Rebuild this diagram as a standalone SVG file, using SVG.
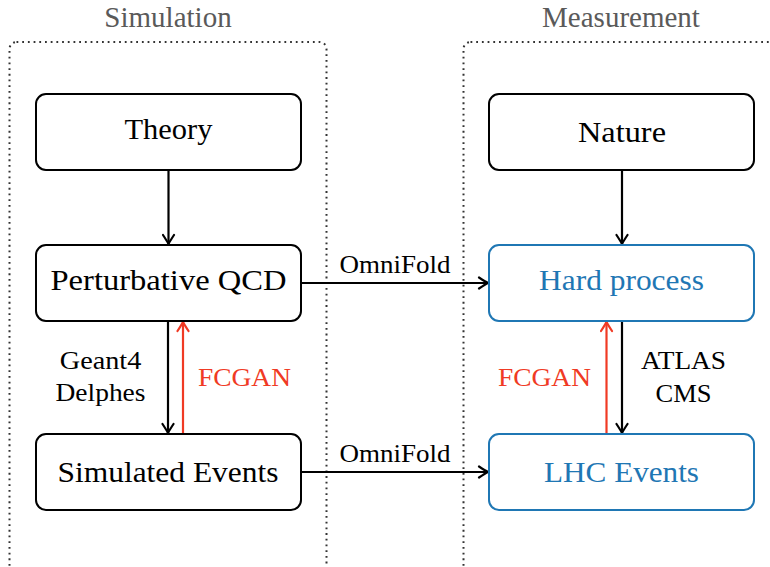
<svg xmlns="http://www.w3.org/2000/svg" width="770" height="567" viewBox="0 0 770 567">
<style>
.title{font-size:29px;fill:#5a5a5a;text-anchor:middle;}
.node{fill:#fff;stroke:#000;stroke-width:2;}
.blue{stroke:#1f77b4;}
.nt{font-size:29px;fill:#000;text-anchor:middle;}
.bt{fill:#1f77b4;}
.lab{font-size:25.5px;fill:#000;}
.red{fill:#f03a24;}
.cont{fill:none;stroke:#333;stroke-width:2;stroke-dasharray:1.8 3.9;}
.ar{fill:none;stroke:#000;stroke-width:2.2;}
.arr{fill:none;stroke:#f03a24;stroke-width:2.2;}
</style>
<defs>
<marker id="hk" markerUnits="userSpaceOnUse" viewBox="-11 -7 13 14" refX="0" refY="0" markerWidth="13" markerHeight="14" orient="auto">
<path d="M-9,-5.5 C-5.5,-3.2 -2,-1 0,0 C-2,1 -5.5,3.2 -9,5.5" fill="none" stroke="#000" stroke-width="2.2" stroke-linecap="round" stroke-linejoin="round"/>
</marker>
<marker id="hr" markerUnits="userSpaceOnUse" viewBox="-11 -7 13 14" refX="0" refY="0" markerWidth="13" markerHeight="14" orient="auto">
<path d="M-9,-5.5 C-5.5,-3.2 -2,-1 0,0 C-2,1 -5.5,3.2 -9,5.5" fill="none" stroke="#f03a24" stroke-width="2.2" stroke-linecap="round" stroke-linejoin="round"/>
</marker>
</defs>
<rect width="770" height="567" fill="#fff"/>
<g font-family="Liberation Serif, 'Times New Roman', 'DejaVu Serif', 'Noto Serif', Times, serif">
<g id="sim-container">
<rect class="cont" x="9.5" y="42" width="317" height="600" rx="7"/>
<text class="title" x="168" y="27">Simulation</text>
</g>
<g id="meas-container">
<rect class="cont" x="463.5" y="42" width="317" height="600" rx="7"/>
<text class="title" x="621" y="27">Measurement</text>
</g>
<g id="connectors">
<line class="ar" x1="168.5" y1="170" x2="168.5" y2="244" marker-end="url(#hk)"/>
<line class="ar" x1="168" y1="321" x2="168" y2="433" marker-end="url(#hk)"/>
<line class="arr" x1="183" y1="434" x2="183" y2="322" marker-end="url(#hr)"/>
<line class="ar" x1="622" y1="170" x2="622" y2="244" marker-end="url(#hk)"/>
<line class="ar" x1="622" y1="321" x2="622" y2="433" marker-end="url(#hk)"/>
<line class="arr" x1="606.5" y1="434" x2="606.5" y2="322" marker-end="url(#hr)"/>
<line class="ar" x1="301" y1="283" x2="488" y2="283" marker-end="url(#hk)"/>
<line class="ar" x1="301" y1="472" x2="488" y2="472" marker-end="url(#hk)"/>
<text class="lab" x="395" y="273" text-anchor="middle" textLength="111" lengthAdjust="spacingAndGlyphs">OmniFold</text>
<text class="lab" x="395" y="462" text-anchor="middle" textLength="111" lengthAdjust="spacingAndGlyphs">OmniFold</text>
<text class="lab" x="100.5" y="369" text-anchor="middle" textLength="81.5" lengthAdjust="spacingAndGlyphs">Geant4</text>
<text class="lab" x="100.5" y="401" text-anchor="middle" textLength="90" lengthAdjust="spacingAndGlyphs">Delphes</text>
<text class="lab red" x="198" y="386" textLength="93" lengthAdjust="spacingAndGlyphs">FCGAN</text>
<text class="lab red" x="591" y="386" text-anchor="end" textLength="93" lengthAdjust="spacingAndGlyphs">FCGAN</text>
<text class="lab" x="683.5" y="369" text-anchor="middle" textLength="85" lengthAdjust="spacingAndGlyphs">ATLAS</text>
<text class="lab" x="683.5" y="402" text-anchor="middle" textLength="56" lengthAdjust="spacingAndGlyphs">CMS</text>
</g>
<g id="theory">
<rect class="node" x="36" y="94" width="265" height="76" rx="10"/>
<text class="nt" x="168.5" y="139" textLength="88" lengthAdjust="spacingAndGlyphs">Theory</text>
</g>
<g id="pqcd">
<rect class="node" x="36" y="245" width="265" height="76" rx="10"/>
<text class="nt" x="168.5" y="290" textLength="236" lengthAdjust="spacingAndGlyphs">Perturbative QCD</text>
</g>
<g id="simulated-events">
<rect class="node" x="36" y="434" width="265" height="76" rx="10"/>
<text class="nt" x="168" y="482" textLength="221" lengthAdjust="spacingAndGlyphs">Simulated Events</text>
</g>
<g id="nature">
<rect class="node" x="489" y="94" width="265" height="76" rx="10"/>
<text class="nt" x="622" y="142" textLength="88" lengthAdjust="spacingAndGlyphs">Nature</text>
</g>
<g id="hard-process">
<rect class="node blue" x="489" y="245" width="265" height="76" rx="10"/>
<text class="nt bt" x="621.5" y="290" textLength="165" lengthAdjust="spacingAndGlyphs">Hard process</text>
</g>
<g id="lhc-events">
<rect class="node blue" x="489" y="434" width="265" height="76" rx="10"/>
<text class="nt bt" x="621.5" y="482" textLength="155" lengthAdjust="spacingAndGlyphs">LHC Events</text>
</g>
</g>
</svg>
